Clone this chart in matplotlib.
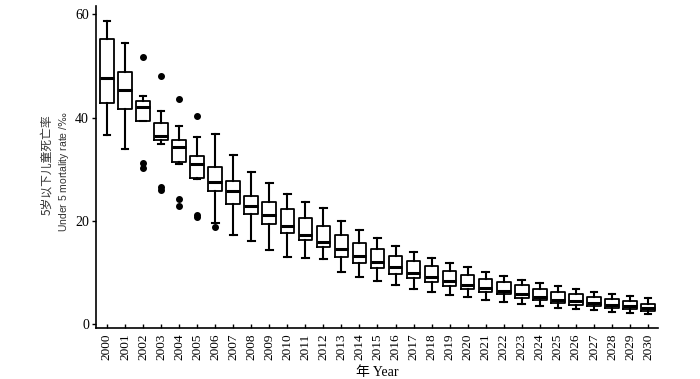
import matplotlib
matplotlib.use('Agg')
import matplotlib.pyplot as plt

years = list(range(2000, 2031))
whis_hi = [58.8, 54.5, 44.1, 41.3, 38.3, 36.2, 36.8, 32.8, 29.5, 27.4,
           25.2, 23.7, 22.5, 19.9, 18.2, 16.6, 15.2, 14.0, 12.9, 11.8,
           11.0, 10.1, 9.4, 8.6, 8.0, 7.4, 6.8, 6.3, 5.8, 5.4, 5.0]
q3 = [55.3, 48.9, 43.3, 38.9, 35.7, 32.6, 30.5, 27.8, 24.9, 23.6,
      22.3, 20.6, 19.1, 17.2, 15.8, 14.6, 13.3, 12.3, 11.2, 10.4,
      9.6, 8.8, 8.2, 7.5, 6.9, 6.3, 5.8, 5.3, 4.9, 4.5, 4.0]
med = [47.7, 45.4, 42.0, 36.5, 34.4, 31.1, 27.5, 25.8, 22.8, 21.1,
       19.1, 17.2, 16.0, 14.6, 13.2, 12.1, 11.1, 10.0, 9.2, 8.3,
       7.6, 7.0, 6.4, 5.8, 5.2, 4.7, 4.5, 4.2, 3.8, 3.6, 3.2]
q1 = [42.8, 41.7, 39.4, 35.7, 31.5, 28.4, 25.8, 23.2, 21.4, 19.5,
      17.7, 16.3, 15.0, 13.0, 11.8, 10.8, 9.8, 8.9, 8.2, 7.4,
      6.8, 6.3, 5.8, 5.1, 4.6, 4.2, 3.8, 3.5, 3.2, 2.9, 2.6]
whis_lo = [36.6, 33.9, 39.3, 34.9, 31.1, 28.2, 19.6, 17.3, 16.2, 14.3,
           13.1, 12.9, 12.6, 10.1, 9.2, 8.4, 7.6, 6.9, 6.2, 5.6,
           5.2, 4.7, 4.3, 3.9, 3.5, 3.1, 2.9, 2.7, 2.4, 2.2, 2.0]
outliers = {2002: [51.7, 31.3, 30.3],
            2003: [48.0, 26.6, 25.9],
            2004: [43.6, 24.2, 22.8],
            2005: [40.4, 21.2, 20.7],
            2006: [18.9]}

stats = []
for i, yr in enumerate(years):
    stats.append({'whislo': whis_lo[i], 'q1': q1[i], 'med': med[i],
                  'q3': q3[i], 'whishi': whis_hi[i],
                  'fliers': outliers.get(yr, [])})

plt.rcParams['font.family'] = ['Liberation Serif', 'Noto Sans CJK SC']
fig = plt.figure(figsize=(7, 3.79), dpi=100)
ax = fig.add_axes([0.137, 0.135, 0.803, 0.849])

ax.bxp(stats, positions=range(len(years)), widths=0.75,
       boxprops=dict(color='black', linewidth=1.3),
       whiskerprops=dict(color='black', linewidth=1.5),
       capprops=dict(color='black', linewidth=1.5),
       medianprops=dict(color='black', linewidth=2.2),
       flierprops=dict(marker='o', markerfacecolor='black',
                       markeredgecolor='black', markersize=4))

ax.set_xlim(-0.61, len(years) - 1 + 0.55)
ax.set_ylim(-0.7, 61.6)
ax.set_xticks(range(len(years)))
ax.set_xticklabels([str(y) for y in years], rotation=90, fontsize=9.5)
ax.set_yticks([0, 20, 40, 60])
ax.tick_params(axis='y', direction='out', length=3, width=1, labelsize=10, pad=2)
ax.tick_params(axis='x', direction='in', length=3, width=1, pad=4)
for s in ['top', 'right']:
    ax.spines[s].set_visible(False)
for s in ['left', 'bottom']:
    ax.spines[s].set_linewidth(1.2)

# two-line y label: Chinese line and English line
fig.text(0.067, 0.565, '5岁以下儿童死亡率', rotation=90, ha='center', va='center',
         fontsize=8.5, color='#333333', family=['Noto Sans CJK SC'])
fig.text(0.091, 0.548, 'Under 5 mortality rate /$\\it{‰}$', rotation=90, ha='center',
         va='center', fontsize=7.5, color='#333333', family=['Liberation Sans'])
ax.set_xlabel('年 Year', fontsize=10, labelpad=4)

fig.savefig('out.png', dpi=100)
